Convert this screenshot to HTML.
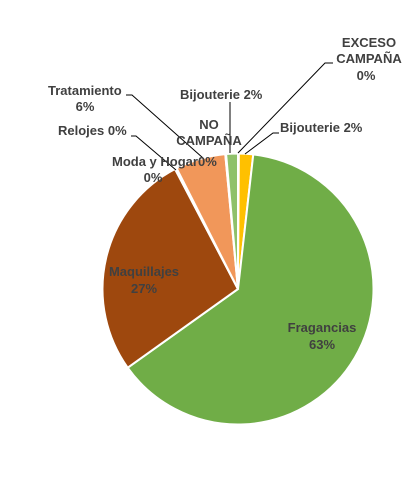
<!DOCTYPE html>
<html><head><meta charset="utf-8"><style>
html,body{margin:0;padding:0;background:#fff;}
svg{display:block;}
text{font-family:"Liberation Sans",Arial,sans-serif;font-weight:bold;font-size:13px;fill:#404040;}
</style></head><body>
<svg id="chart" width="410" height="490" viewBox="0 0 410 490">
<g id="slices"></g>
<g stroke="#000" stroke-width="1" fill="none">
<polyline points="333,63 325,63 238,153"/>
<polyline points="279,133 273,133 245,154"/>
<polyline points="230,102 230,153"/>
<polyline points="126,95 132,95 203,158"/>
<polyline points="131,136 136,136 176,170"/>
</g>
<g>
<text text-anchor="middle" x="369" y="47">EXCESO</text>
<text text-anchor="middle" x="369" y="63">CAMPAÑA</text>
<text text-anchor="middle" x="366" y="80">0%</text>
<text x="280" y="132">Bijouterie 2%</text>
<text x="180" y="99">Bijouterie 2%</text>
<text text-anchor="middle" x="209" y="129">NO</text>
<text text-anchor="middle" x="209" y="145">CAMPAÑA</text>
<text x="198" y="166">0%</text>
<text x="48" y="95">Tratamiento</text>
<text text-anchor="middle" x="85" y="111">6%</text>
<text x="58" y="135">Relojes 0%</text>
<text x="112" y="166">Moda y Hogar</text>
<text text-anchor="middle" x="153" y="182">0%</text>
<text text-anchor="middle" x="144" y="276">Maquillajes</text>
<text text-anchor="middle" x="144" y="293">27%</text>
<text text-anchor="middle" x="322" y="332">Fragancias</text>
<text text-anchor="middle" x="322" y="349">63%</text>
</g>
</svg>
<script>
const categories = ["EXCESO CAMPAÑA","Bijouterie","Fragancias","Maquillajes","Moda y Hogar","Relojes","Tratamiento","NO CAMPAÑA","Bijouterie"];
const values = [0.1, 1.7, 63.4, 27.2, 0.1, 0.1, 6.0, 0.1, 1.4];
const colors = ["#4472C4","#FFC000","#70AD47","#9E480E","#A5A5A5","#5B9BD5","#F1975A","#264478","#8FC16A"];
const cx = 238, cy = 289, r = 135.5;
const total = values.reduce((a,b)=>a+b,0);
const g = document.getElementById('slices');
let acc = 0;
function pt(frac){const a = frac*2*Math.PI; return [cx + r*Math.sin(a), cy - r*Math.cos(a)];}
values.forEach((v,i)=>{
  const s = acc/total, e = (acc+v)/total; acc += v;
  const p0 = pt(s), p1 = pt(e);
  const large = (e-s) > 0.5 ? 1 : 0;
  const path = document.createElementNS('http://www.w3.org/2000/svg','path');
  path.setAttribute('d', `M${cx},${cy} L${p0[0]},${p0[1]} A${r},${r} 0 ${large} 1 ${p1[0]},${p1[1]} Z`);
  path.setAttribute('fill', colors[i]);
  path.setAttribute('stroke', '#fff');
  path.setAttribute('stroke-width', '2');
  
  
  g.appendChild(path);
});
</script>
</body></html>
